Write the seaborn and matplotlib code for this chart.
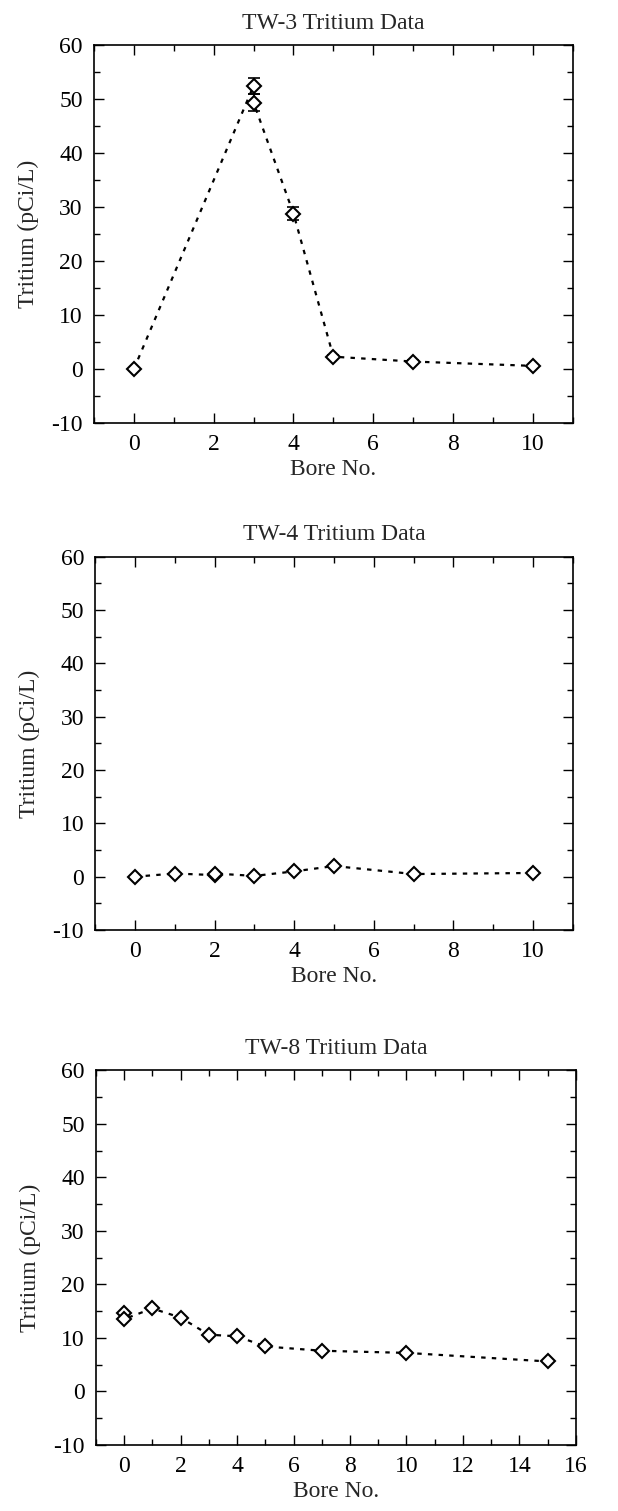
import seaborn as sns
import matplotlib.pyplot as plt
from matplotlib.ticker import MultipleLocator

# TW-3 data
tw3_bore = [0, 3, 3, 4, 5, 7, 10]
tw3_trit = [0.0, 52.5, 49.4, 28.8, 2.3, 1.4, 0.6]
tw3_err = [0.2, 1.5, 1.5, 1.2, 0.3, 0.2, 0.2]

# TW-4 data
tw4_bore = [0, 1, 2, 2, 3, 4, 5, 7, 10]
tw4_trit = [0.0, 0.6, 0.3, 0.6, 0.15, 1.0, 2.0, 0.5, 0.7]

# TW-8 data
tw8_bore = [0, 0, 1, 2, 3, 4, 5, 7, 10, 15]
tw8_trit = [14.6, 13.5, 15.5, 13.8, 10.6, 10.3, 8.4, 7.6, 7.2, 5.6]

titles = ['TW-3 Tritium Data', 'TW-4 Tritium Data', 'TW-8 Tritium Data']

sns.set_style('white')
plt.rcParams['font.family'] = ['Liberation Serif', 'DejaVu Serif']
plt.rcParams['axes.unicode_minus'] = False

fig = plt.figure(figsize=(6.18, 15.11), dpi=100)
axes = [fig.add_axes([0.152, 0.720, 0.775, 0.250]),
        fig.add_axes([0.154, 0.3845, 0.773, 0.247]),
        fig.add_axes([0.155, 0.0437, 0.777, 0.248])]

datasets = [(tw3_bore, tw3_trit), (tw4_bore, tw4_trit), (tw8_bore, tw8_trit)]
xmax = [11, 11, 16]

for ax, (bx, ty), title, xm in zip(axes, datasets, titles, xmax):
    sns.lineplot(x=bx, y=ty, ax=ax, sort=False, estimator=None, color='black',
                 linestyle=(0, (2.0, 2.8)), linewidth=1.6, marker='D',
                 markersize=7, markerfacecolor='white', markeredgecolor='black',
                 markeredgewidth=1.5)
    ax.set_xlim(-1, xm)
    ax.set_ylim(-10, 60)
    ax.xaxis.set_major_locator(MultipleLocator(2))
    ax.xaxis.set_minor_locator(MultipleLocator(1))
    ax.yaxis.set_major_locator(MultipleLocator(10))
    ax.yaxis.set_minor_locator(MultipleLocator(5))
    ax.tick_params(which='both', direction='in', top=True, right=True,
                   bottom=True, left=True, colors='black', labelsize=17)
    ax.tick_params(which='major', length=7, width=1, pad=8)
    ax.tick_params(which='minor', length=4, width=1)
    for s in ax.spines.values():
        s.set_color('black')
        s.set_linewidth(1.2)
    ax.set_title(title, fontsize=17, pad=12)
    ax.set_xlabel('Bore No.', fontsize=17, labelpad=3)
    ax.set_ylabel('Tritium (pCi/L)', fontsize=17, labelpad=9)

# error bars on TW-3
axes[0].errorbar(tw3_bore, tw3_trit, yerr=tw3_err, fmt='none', ecolor='black',
                 elinewidth=1.2, capsize=4, capthick=1.2, zorder=1)

fig.savefig('out.png', dpi=100)
